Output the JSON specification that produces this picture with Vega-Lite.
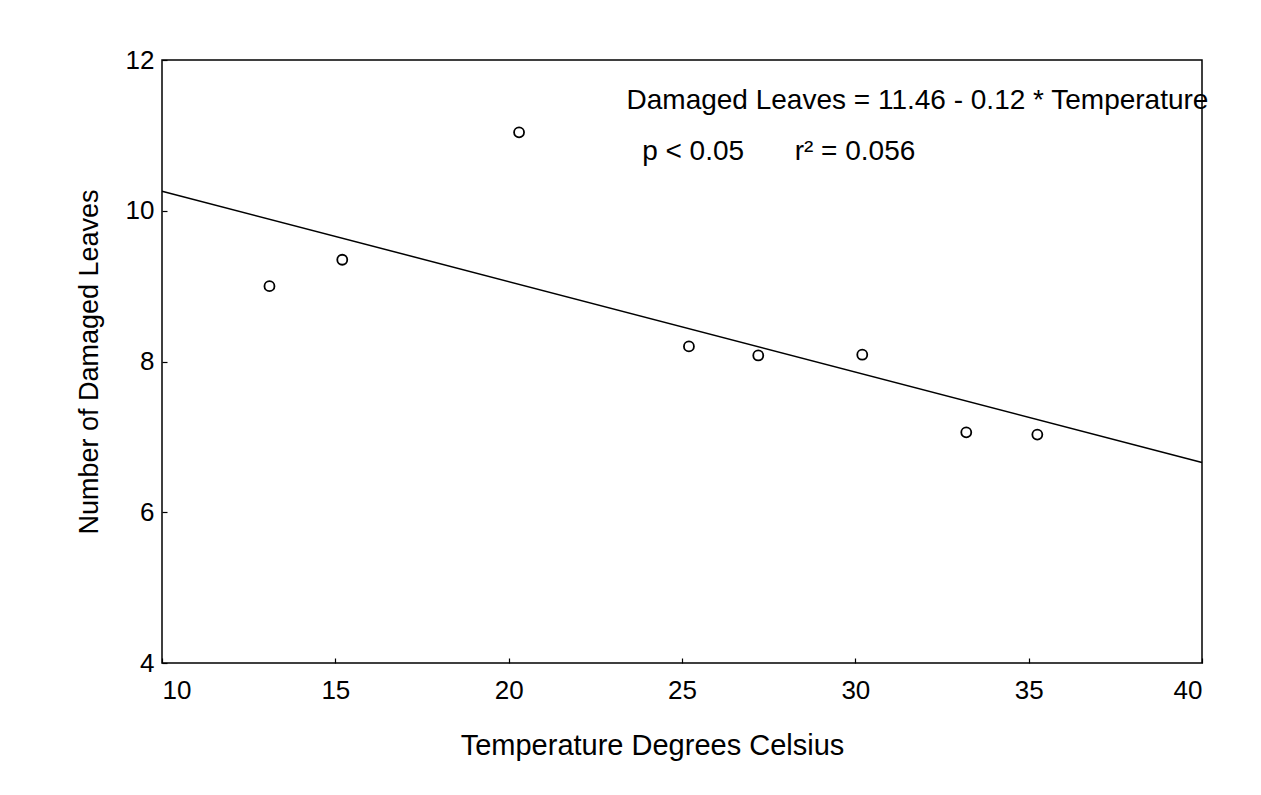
{
  "$schema": "https://vega.github.io/schema/vega-lite/v6.json",
  "width": 1040,
  "height": 603,
  "autosize": {"type": "none"},
  "padding": {"left": 162, "top": 60, "right": 59, "bottom": 132},
  "background": "white",
  "config": {
    "view": {"stroke": "black", "strokeWidth": 1.5},
    "font": "Liberation Sans",
    "axis": {
      "grid": false,
      "domain": false,
      "tickColor": "black",
      "tickWidth": 1.2,
      "labelColor": "black",
      "titleColor": "black",
      "labelFont": "Liberation Sans",
      "titleFont": "Liberation Sans",
      "labelFontSize": 26,
      "titleFontSize": 27,
      "titleFontWeight": "normal"
    }
  },
  "datasets": {
    "points": [
      {"Temperature": 13.1, "Damaged": 9.0},
      {"Temperature": 15.2, "Damaged": 9.35},
      {"Temperature": 20.3, "Damaged": 11.04},
      {"Temperature": 25.2, "Damaged": 8.2},
      {"Temperature": 27.2, "Damaged": 8.08},
      {"Temperature": 30.2, "Damaged": 8.09},
      {"Temperature": 33.2, "Damaged": 7.06},
      {"Temperature": 35.25, "Damaged": 7.03}
    ],
    "fit": [
      {"Temperature": 10, "Damaged": 10.26},
      {"Temperature": 40, "Damaged": 6.66}
    ]
  },
  "layer": [
    {
      "data": {"name": "fit"},
      "mark": {"type": "line", "color": "black", "strokeWidth": 1.5},
      "encoding": {
        "x": {
          "field": "Temperature", "type": "quantitative",
          "scale": {"domain": [10, 40], "nice": false, "zero": false},
          "axis": {
            "title": "Temperature Degrees Celsius",
            "titleFontSize": 29,
            "titleX": 490,
            "titleAnchor": "middle",
            "values": [10, 15, 20, 25, 30, 35, 40],
            "format": "d",
            "offset": -5,
            "tickSize": 5,
            "labelPadding": 14,
            "titlePadding": 28
          }
        },
        "y": {
          "field": "Damaged", "type": "quantitative",
          "scale": {"domain": [4, 12], "nice": false, "zero": false},
          "axis": {
            "title": "Number of Damaged Leaves",
            "values": [4, 6, 8, 10, 12],
            "format": "d",
            "offset": -5,
            "tickSize": 5,
            "labelPadding": 8,
            "titlePadding": 22
          }
        }
      }
    },
    {
      "data": {"name": "points"},
      "mark": {"type": "point", "shape": "circle", "filled": false, "color": "black", "strokeWidth": 1.8, "size": 100, "opacity": 1},
      "encoding": {
        "x": {"field": "Temperature", "type": "quantitative"},
        "y": {"field": "Damaged", "type": "quantitative"}
      }
    },
    {
      "data": {"values": [{}]},
      "mark": {"type": "text", "align": "left", "baseline": "middle", "fontSize": 28, "font": "Liberation Sans", "color": "black"},
      "encoding": {
        "x": {"datum": 23.4, "type": "quantitative"},
        "y": {"datum": 11.45, "type": "quantitative"},
        "text": {"value": "Damaged Leaves = 11.46 - 0.12 * Temperature"}
      }
    },
    {
      "data": {"values": [{}]},
      "mark": {"type": "text", "align": "left", "baseline": "middle", "fontSize": 28, "font": "Liberation Sans", "color": "black"},
      "encoding": {
        "x": {"datum": 23.85, "type": "quantitative"},
        "y": {"datum": 10.78, "type": "quantitative"},
        "text": {"value": "p < 0.05"}
      }
    },
    {
      "data": {"values": [{}]},
      "mark": {"type": "text", "align": "left", "baseline": "middle", "fontSize": 28, "font": "Liberation Sans", "color": "black"},
      "encoding": {
        "x": {"datum": 28.25, "type": "quantitative"},
        "y": {"datum": 10.78, "type": "quantitative"},
        "text": {"value": "r² = 0.056"}
      }
    }
  ]
}
